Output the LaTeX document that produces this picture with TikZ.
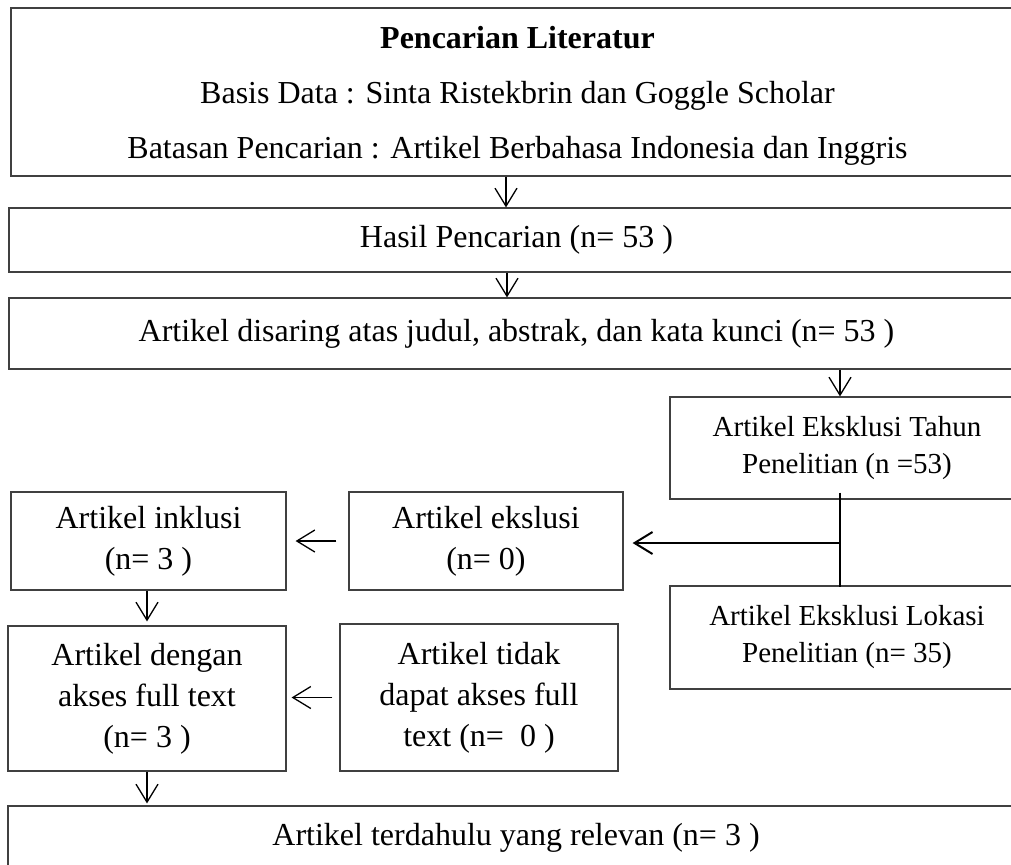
\documentclass[tikz,border=0pt]{standalone}
\usepackage{fontspec}
\setmainfont{Liberation Serif}
\usetikzlibrary{arrows.meta}

\begin{document}
\begin{tikzpicture}[
		x=0.5pt, y=-0.5pt,
		stage/.style={rectangle, draw=black!75, line width=0.6pt, inner sep=0pt, align=center, font=\fontsize{16}{20.5}\selectfont},
		side/.style={stage, font=\fontsize{14.5}{18.5}\selectfont},
		flow/.style={-{Straight Barb[length=9pt, width=11pt]}, line width=0.65pt}
		]
		\useasboundingbox (0, 0) rectangle (1011, 864);
		\clip (0, 0) rectangle (1011, 864);
		% main column
		\node at (517.5, 92) [name=search, stage, minimum width=506.5pt, minimum height=84pt, font=\fontsize{16}{27.5}\selectfont] {\rule{0pt}{15pt}\textbf{Pencarian Literatur}\\Basis Data : Sinta Ristekbrin dan Goggle Scholar\\Batasan Pencarian : Artikel Berbahasa Indonesia dan Inggris};
		\node at (516.5, 240) [name=result, stage, minimum width=507.5pt, minimum height=32pt] {Hasil Pencarian (n= 53 )};
		\node at (516.5, 333.5) [name=screened, stage, minimum width=507.5pt, minimum height=35.5pt] {Artikel disaring atas judul, abstrak, dan kata kunci (n= 53 )};
		% exclusions
		\node at (847, 448) [name=excl year, side, minimum width=177pt, minimum height=51pt] {Artikel Eksklusi Tahun\\Penelitian (n =53)};
		\node at (847, 637.5) [name=excl place, side, minimum width=177pt, minimum height=51.5pt] {Artikel Eksklusi Lokasi\\Penelitian (n= 35)};
		\node at (486, 541) [name=excluded, stage, minimum width=137pt, minimum height=49pt] {Artikel ekslusi\\(n= 0)};
		\node at (148.5, 541) [name=included, stage, minimum width=137.5pt, minimum height=49pt] {Artikel inklusi\\(n= 3 )};
		\node at (147, 698.5) [name=full text, stage, minimum width=139pt, minimum height=72.5pt] {Artikel dengan\\akses full text\\(n= 3 )};
		\node at (479, 697.5) [name=no access, stage, minimum width=139pt, minimum height=73.5pt] {Artikel tidak\\dapat akses full\\text (n=~ 0 )};
		\node at (516, 838) [name=relevant, stage, minimum width=508pt, minimum height=32pt] {Artikel terdahulu yang relevan (n= 3 )};
		\coordinate (join) at (840, 543);

		\draw [flow] (search.south -| 506,0) -- (result.north -| 506,0);
		\draw [flow] (result.south -| 507,0) -- (screened.north -| 507,0);
		\draw [flow] (screened.south -| join) -- (excl year.north -| join);
		\draw [line width=0.6pt, shorten <=-3.5pt, shorten >=-1pt] (excl year.south -| join) -- (excl place.north -| join);
		\draw [flow, line width=1pt, shorten >=4.5pt] (join) -- (excluded.east |- join);
		\draw [flow, shorten <=6pt, shorten >=4.5pt] (excluded.west) -- (included.east);
		\draw [flow, shorten >=2pt] (included.south -| full text) -- (full text.north);
		\draw [flow, shorten <=3.5pt, shorten >=2.5pt] (no access.west) -- (full text.east |- no access.west);
		\draw [flow, shorten >=1pt] (full text.south) -- (relevant.north -| full text);
	\end{tikzpicture}
\end{document}
